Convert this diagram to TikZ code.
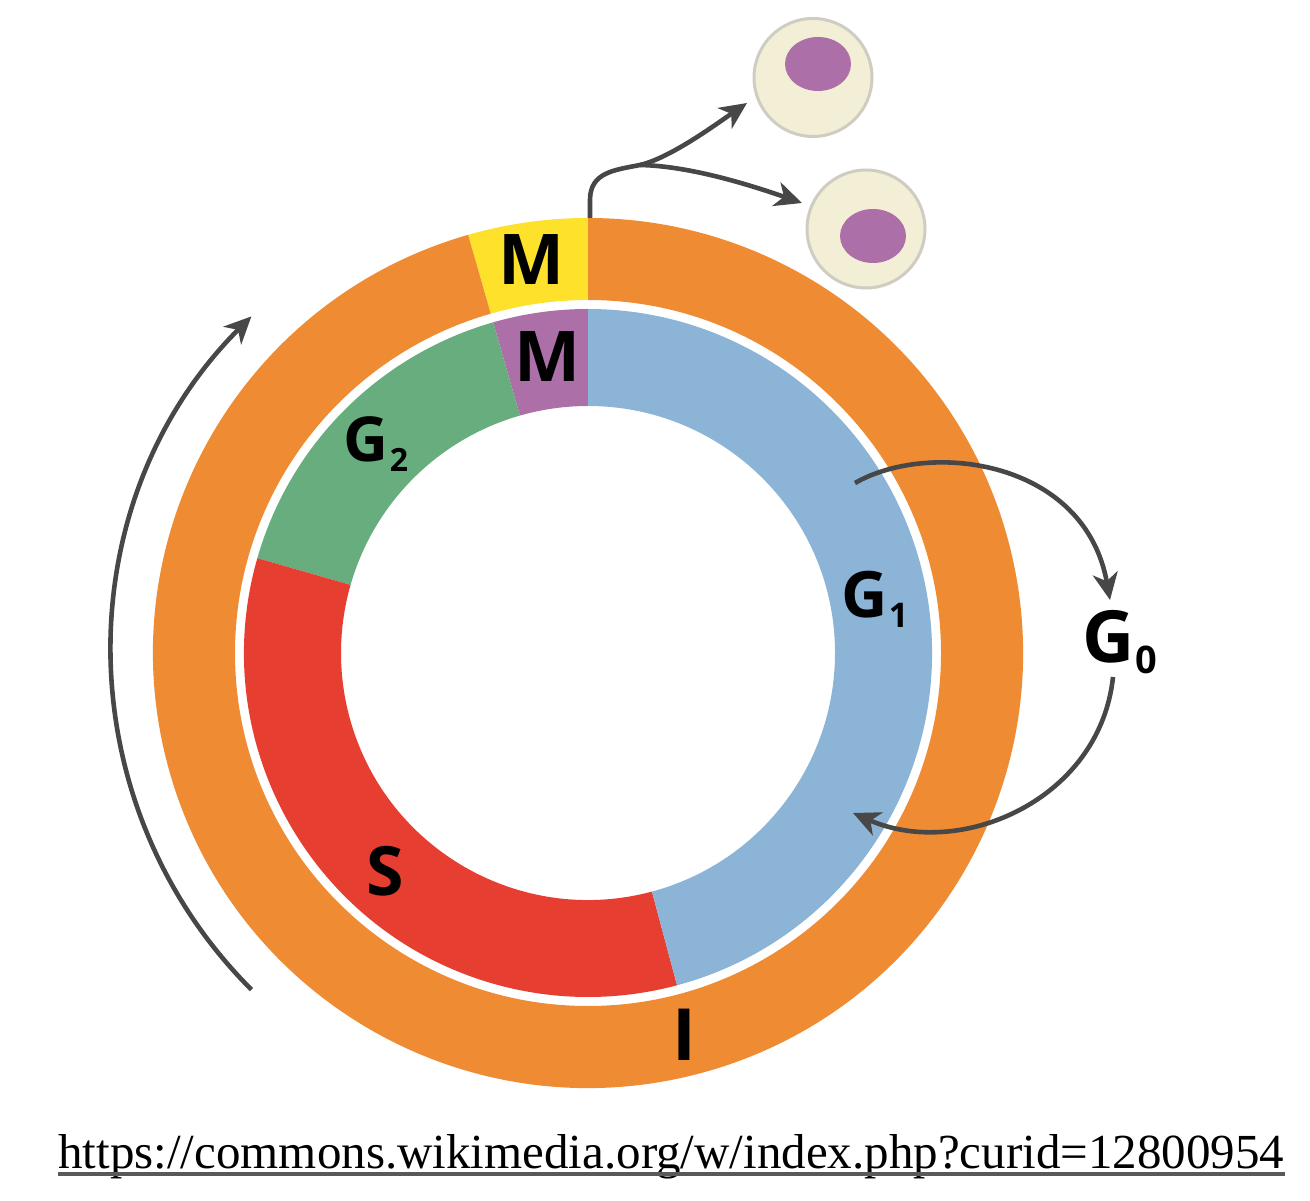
\documentclass[tikz,border=0pt]{standalone}
\usepackage{fontspec}
\setmainfont{Liberation Serif}
\newfontfamily\labfont{Open Sans}
\usetikzlibrary{arrows.meta,shapes.geometric,calc}
\definecolor{corange}{HTML}{EE8B33}
\definecolor{cyellow}{HTML}{FEE12B}
\definecolor{cpurple}{HTML}{AC6FA8}
\definecolor{cgreen}{HTML}{68AD7E}
\definecolor{cred}{HTML}{E63E31}
\definecolor{cblue}{HTML}{8CB4D7}
\definecolor{ccell}{HTML}{F3EED6}
\definecolor{cborder}{HTML}{CFCDC2}
\definecolor{cnuc}{HTML}{AC6FA8}
\definecolor{cgray}{HTML}{474747}
\newcommand\ringseg[5]{\fill[#1] ($(C)+(#2:#4)$) arc[start angle=#2,end angle=#3,radius=#4] -- ($(C)+(#3:#5)$) arc[start angle=#3,end angle=#2,radius=#5] -- cycle;}
\begin{document}
\begin{tikzpicture}[x=0.5pt,y=0.5pt,
  arr/.style={draw=cgray, line width=2.3pt, -{Stealth[length=13.5pt,width=12.5pt,inset=4pt]}},
  lab/.style={inner sep=0, anchor=base, text=black},
  big/.style={font={\labfont\bfseries\fontsize{#1}{#1}\selectfont}},
  cell/.style={circle, draw=cborder, line width=1.5pt, fill=ccell, minimum size=59pt, inner sep=0},
  nucleus/.style={ellipse, fill=cnuc, minimum width=33pt, minimum height=27pt, inner sep=0}]
\useasboundingbox (0,0) rectangle (1310,1200);
\coordinate (C) at (588,547);
% outer ring
\ringseg{cyellow}{90}{106}{435}{353}
\ringseg{corange}{106}{450}{435}{353}
% inner ring
\ringseg{cpurple}{90}{106}{344}{247}
\ringseg{cgreen}{106}{164}{344}{247}
\ringseg{cred}{164}{285}{344}{247}
\ringseg{cblue}{285}{450}{344}{247}
% labels
\newcommand\subs[2]{\kern0.5pt\raisebox{-5pt}{\fontsize{#1}{#1}\selectfont #2}}
\node[lab, big=35] (mout) at (531,915) {M};
\node[lab, big=35] (min) at (547,818) {M};
\node[lab, big=31] (g2) at (376,738) {G\subs{16}{2}};
\node[lab, big=32] (g1) at (875,582) {G\subs{17}{1}};
\node[lab, big=36] (g0) at (1120,537) {G\subs{19}{0}};
\node[lab, big=34] (s) at (385.5,305) {S};
\node[lab, big=36] (i) at (684.5,140) {I};
% cells
\node[cell] (cell1) at (813,1122.5) {};
\node[nucleus] (nuc1) at (818,1136) {};
\node[cell] (cell2) at (866,971) {};
\node[nucleus] (nuc2) at (873,964) {};
% left arc arrow
\coordinate (lstart) at ($(C)+(225:476)$);
\draw[arr] (lstart) arc[start angle=225, end angle=135, radius=476];
% division arrows
\coordinate (mstart) at (590,982);
\coordinate (junction) at (640,1035);
\coordinate (tip1) at (747,1097);
\coordinate (tip2) at (802,997);
\draw[arr] (mstart) -- (590,1000) .. controls (590,1028) and (615,1030) .. (junction) .. controls (670,1042) and (715,1075) .. (tip1);
\draw[arr] (junction) .. controls (690,1034) and (750,1015) .. (tip2);
% G0 arrows
\coordinate (g1out) at (855,717);
\coordinate (g0in) at (1110,600);
\coordinate (g0out) at (1113,523);
\coordinate (g1in) at (853,387);
\draw[arr] (g1out) .. controls (930,760) and (1085,740) .. (g0in);
\draw[arr] (g0out) .. controls (1100,400) and (960,340) .. (g1in);
% URL
\node[inner sep=0, anchor=base west, font=\fontsize{24.5}{24.5}\selectfont] (url) at (58,32) {https://commons.wikimedia.org/w/index.php?curid=12800954};
\draw[line width=1.8pt, black!65] ([yshift=-3pt]url.base west) -- ([yshift=-3pt]url.base east);
\end{tikzpicture}
\end{document}
